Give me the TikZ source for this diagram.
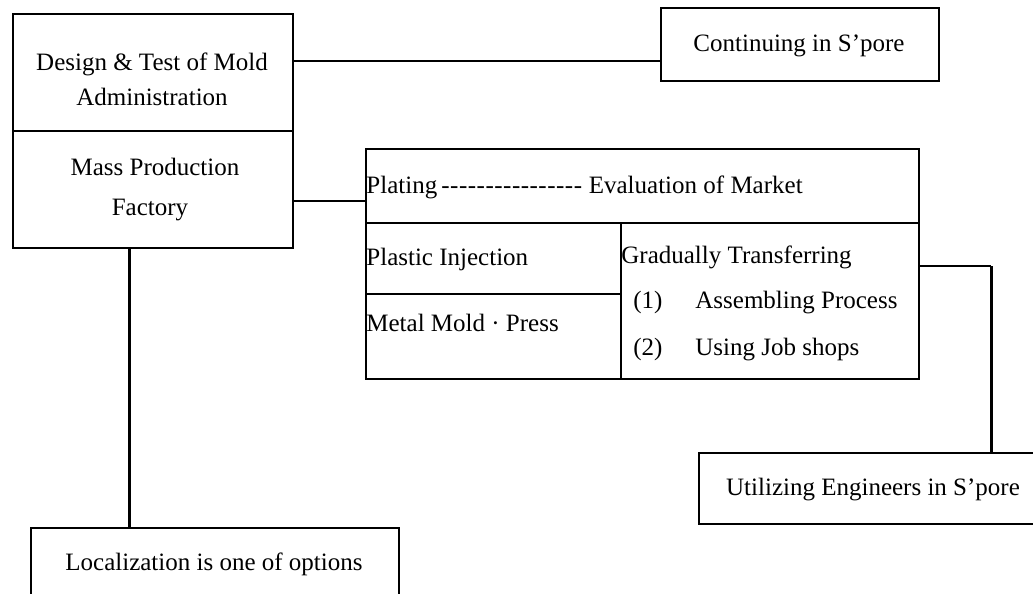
\documentclass[tikz,border=0pt]{standalone}
\usepackage{fontspec}
\setmainfont{Liberation Serif}
\usetikzlibrary{positioning,calc}

\newcommand{\dashrow}{\foreach \k in {1,...,16}{-\kern0.25pt}}

\begin{document}
\begin{tikzpicture}[x=0.5pt,y=-0.5pt]
\tikzstyle{cell}=[draw,line width=1pt,inner sep=0pt,anchor=north west]
\tikzstyle{txt}=[inner sep=0pt,anchor=base,font=\fontsize{12.5}{15}\selectfont]
\tikzstyle{ltxt}=[txt,anchor=base west]
\tikzstyle{link}=[line width=1pt]
\tikzstyle{post}=[line width=1.5pt]

\useasboundingbox (0,0) rectangle (1033,594);

% boxes
\node[cell,minimum width=140pt,minimum height=58.5pt]   (adm)   at (12,13)   {};
\node[cell,minimum width=140pt,minimum height=58.5pt]   (fac)   at (12,130)  {};
\node[cell,minimum width=139pt,minimum height=36.5pt]   (cont)  at (660,7)   {};
\node[cell,minimum width=276.5pt,minimum height=37pt]   (plat)  at (365,148) {};
\node[cell,minimum width=127.5pt,minimum height=35.5pt] (inj)   at (365,222) {};
\node[cell,minimum width=127.5pt,minimum height=42.5pt] (metal) at (365,293) {};
\node[cell,minimum width=149pt,minimum height=78pt]     (grad)  at (620,222) {};
\node[cell,minimum width=172.5pt,minimum height=35.5pt] (util)  at (698,452) {};
\node[cell,minimum width=184pt,minimum height=45pt]     (local) at (30,527)  {};

% texts
\node[txt]  (t1)  at (152,70)  {Design \& Test of Mold};
\node[txt]  (t2)  at (152,105) {Administration};
\node[txt]  (t3)  at (155,175) {Mass Production};
\node[txt]  (t4)  at (150,215) {Factory};
\node[txt]  (t5)  at (799,51)  {Continuing in S'pore};
\node[ltxt] (t6)  at (366,193) {Plating\,\dashrow\ Evaluation of Market};
\node[ltxt] (t7)  at (366,265) {Plastic Injection};
\node[ltxt] (t8)  at (366,331) {Metal Mold · Press};
\node[ltxt] (t9)  at (621,263) {Gradually Transferring};
\node[ltxt] (t10) at (633,308) {(1)};
\node[ltxt] (t11) at (695,308) {Assembling Process};
\node[ltxt] (t12) at (633,355) {(2)};
\node[ltxt] (t13) at (695,355) {Using Job shops};
\node[txt]  (t14) at (873,495) {Utilizing Engineers in S'pore};
\node[txt]  (t15) at (214,570) {Localization is one of options};

% connectors
\coordinate (j1) at ([yshift=5.75pt]adm.east);
\coordinate (j2) at ([yshift=-5.75pt]fac.east);
\coordinate (j3) at ([yshift=17.5pt]grad.east);
\coordinate (k3) at ([xshift=35.5pt]j3);
\coordinate (j4) at ([xshift=-12pt]fac.south);
\draw[link] (j1) -- (j1 -| cont.west);
\draw[link] (j2) -- (j2 -| plat.west);
\draw[link] (j3) -- (k3);
\draw[post] (k3) -- (k3 |- util.north);
\draw[post] (j4) -- (j4 |- local.north);
\end{tikzpicture}
\end{document}
